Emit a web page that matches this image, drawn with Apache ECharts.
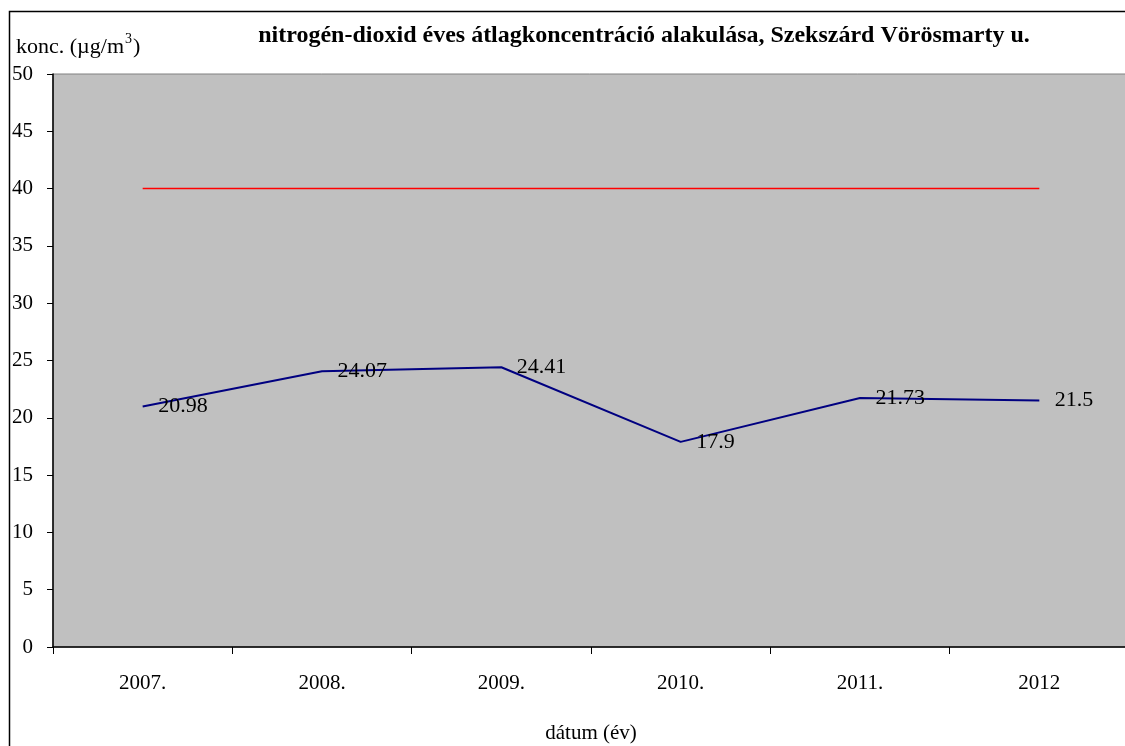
<!DOCTYPE html>
<html><head><meta charset="utf-8">
<script src="https://cdn.jsdelivr.net/npm/echarts@6/dist/echarts.min.js"></script>
<style>html,body{margin:0;padding:0;background:#fff}#c{width:1125px;height:746px}</style>
</head><body><div id="c"></div>
<script>
const categories = ['2007.', '2008.', '2009.', '2010.', '2011.', '2012'];
const concentration = [20.98, 24.07, 24.41, 17.9, 21.73, 21.5];
const limitValue = [40, 40, 40, 40, 40, 40];
const yTicks = [0, 5, 10, 15, 20, 25, 30, 35, 40, 45, 50];

const FONT = '"Liberation Serif", "Times New Roman", serif';
const chart = echarts.init(document.getElementById('c'));
chart.setOption({
  animation: false,
  backgroundColor: '#fff',
  textStyle: { fontFamily: FONT, color: '#000' },
  title: [
    { text: 'nitrogén-dioxid éves átlagkoncentráció alakulása, Szekszárd Vörösmarty u.',
      left: 639, textAlign: 'center', top: 19,
      textStyle: { fontFamily: FONT, fontWeight: 'bold', fontSize: 24, color: '#000' } },
    { text: '{a|konc. (µg/m}{s|3}{a|)}', left: 11, top: 27,
      textStyle: { fontWeight: 'normal', rich: {
        a: { fontFamily: FONT, fontWeight: 'normal', fontSize: 22, color: '#000', verticalAlign: 'bottom' },
        s: { fontFamily: FONT, fontWeight: 'normal', fontSize: 14, color: '#000', verticalAlign: 'top', padding: [0,1,12,1] } } } }
  ],
  graphic: [{ type: 'rect', z: -1, silent: true,
    shape: { x: 9.5, y: 11.5, width: 1200, height: 800 },
    style: { fill: 'none', stroke: '#000', lineWidth: 1.5 } }],
  grid: { left: 53, top: 74, width: 1076, height: 573, show: true, outerBoundsMode: 'none', containLabel: false,
    backgroundColor: '#C0C0C0', borderColor: '#808080', borderWidth: 1 },
  xAxis: {
    type: 'category', data: categories, boundaryGap: true,
    name: 'dátum (év)', nameLocation: 'middle', nameGap: 76,
    nameTextStyle: { fontFamily: FONT, fontSize: 21, color: '#000' },
    axisLine: { lineStyle: { color: '#000', width: 1.5 } },
    axisTick: { show: true, length: 7, lineStyle: { color: '#000' } },
    axisLabel: { fontFamily: FONT, fontSize: 21, color: '#000', margin: 26 },
    splitLine: { show: false }
  },
  yAxis: {
    type: 'value', min: yTicks[0], max: yTicks[yTicks.length - 1], interval: 5,
    axisLine: { show: true, lineStyle: { color: '#000', width: 1.5 } },
    axisTick: { show: true, length: 6, lineStyle: { color: '#000' } },
    axisLabel: { fontFamily: FONT, fontSize: 21, color: '#000', margin: 20, padding: [4, 0, 0, 0] },
    splitLine: { show: false }
  },
  series: [
    { name: 'határérték', type: 'line', data: limitValue, symbol: 'none',
      lineStyle: { color: '#FF0000', width: 1.5 } },
    { name: 'NO2', type: 'line', data: concentration, symbol: 'circle', symbolSize: 1, showSymbol: true,
      itemStyle: { color: 'rgba(0,0,128,0)' },
      lineStyle: { color: '#000080', width: 2 },
      label: { show: true, position: 'right', distance: 15,
        fontFamily: FONT, fontSize: 22, color: '#000' },
      labelLayout: { hideOverlap: false } }
  ]
});
</script></body></html>
